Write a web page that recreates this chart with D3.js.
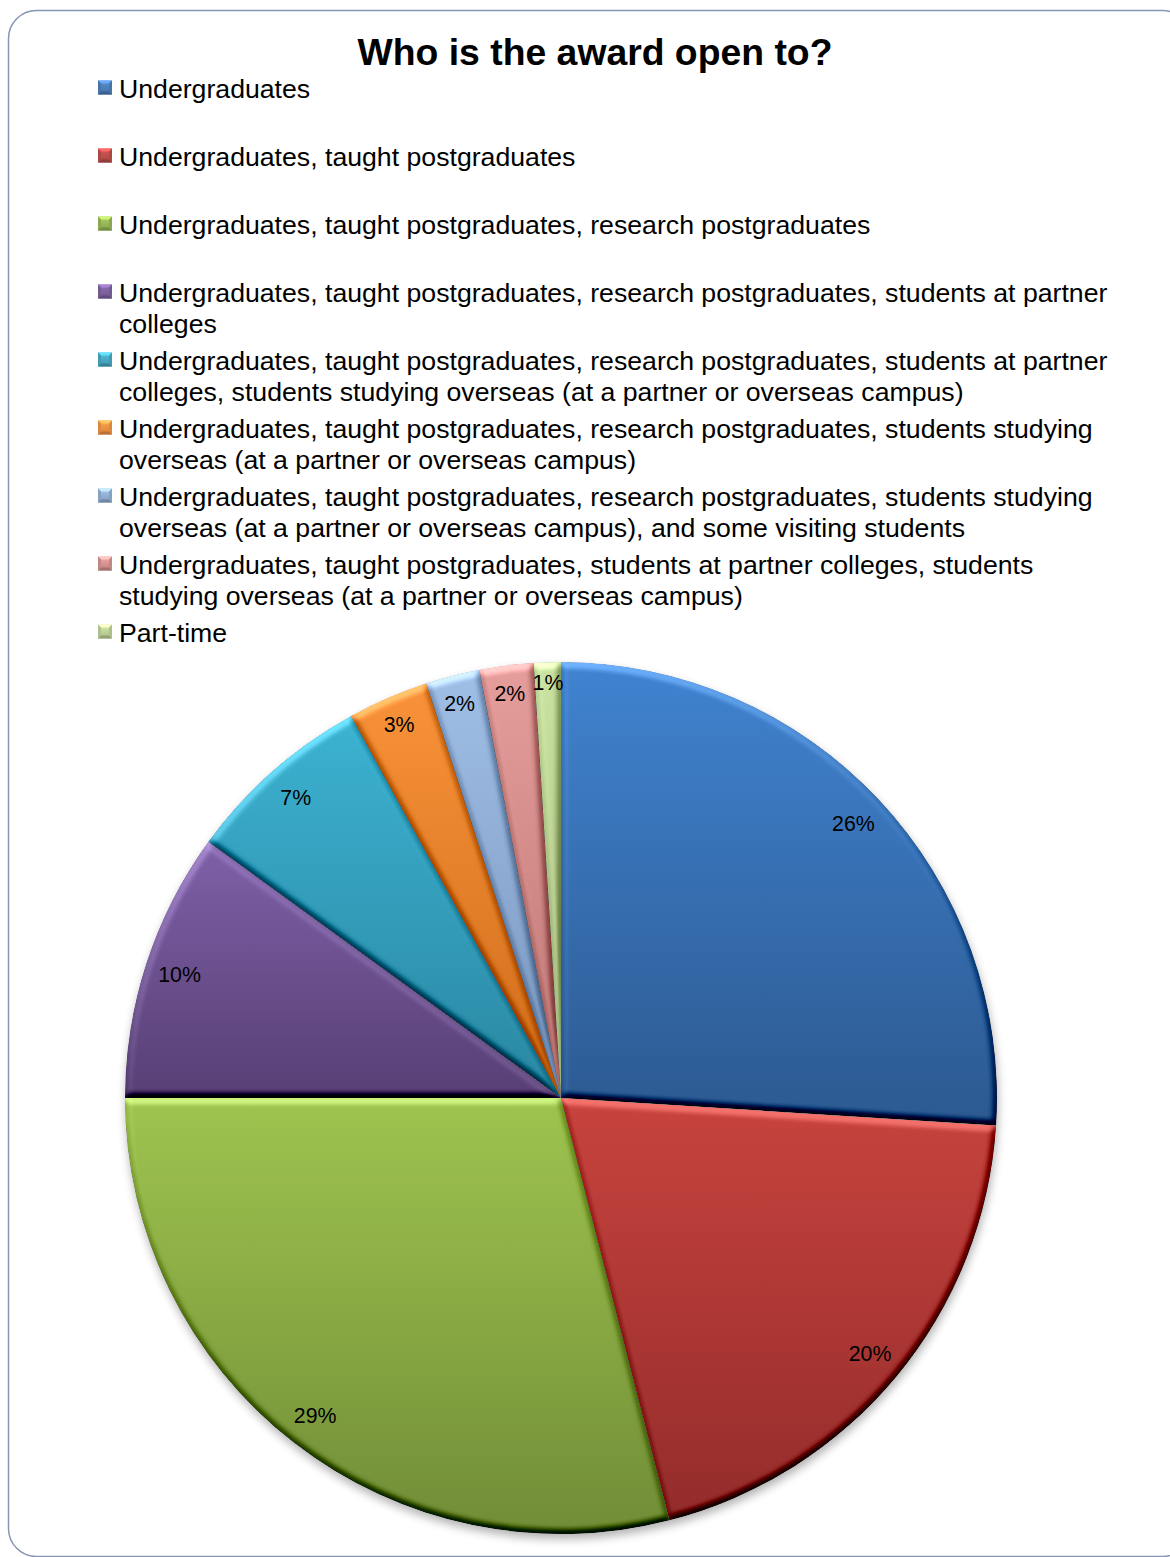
<!DOCTYPE html>
<html>
<head>
<meta charset="utf-8">
<script src="https://cdn.jsdelivr.net/npm/d3@7"></script>
<style>
  html, body { margin: 0; padding: 0; background: #fff; }
  svg { display: block; font-family: "Liberation Sans", Arial, sans-serif; }
</style>
</head>
<body>
<svg id="chart" width="1170" height="1557"></svg>
<script>
// ---- data ----
const title = "Who is the award open to?";
const categories = [
  "Undergraduates",
  "Undergraduates, taught postgraduates",
  "Undergraduates, taught postgraduates, research postgraduates",
  "Undergraduates, taught postgraduates, research postgraduates, students at partner colleges",
  "Undergraduates, taught postgraduates, research postgraduates, students at partner colleges, students studying overseas (at a partner or overseas campus)",
  "Undergraduates, taught postgraduates, research postgraduates, students studying overseas (at a partner or overseas campus)",
  "Undergraduates, taught postgraduates, research postgraduates, students studying overseas (at a partner or overseas campus), and some visiting students",
  "Undergraduates, taught postgraduates, students at partner colleges, students studying overseas (at a partner or overseas campus)",
  "Part-time"
];
const values = [26, 20, 29, 10, 7, 3, 2, 2, 1];
const valueLabels = ["26%", "20%", "29%", "10%", "7%", "3%", "2%", "2%", "1%"];

// ---- style ----
const baseColors = ["#4F81BD", "#C0504D", "#9BBB59", "#8064A2", "#4BACC6", "#F79646", "#95B3D7", "#D99694", "#C3D69B"];
const topColors  = ["#4083d0", "#c8433e", "#9fc44f", "#7e60a8", "#3cb2d1", "#f8923a", "#a0bfe6", "#e59e9c", "#cbe3a2"];
const botColors  = ["#2c5990", "#932c2b", "#718d37", "#583f74", "#2a87a2", "#d06c1a", "#7895be", "#bd7674", "#a2b87d"];

const svg = d3.select("#chart");
const defs = svg.append("defs");

// bevel filter (region in pie-group coordinates)
const f = defs.append("filter").attr("id", "bevel")
  .attr("filterUnits", "userSpaceOnUse").attr("x", -480).attr("y", -480)
  .attr("width", 960).attr("height", 960)
  .attr("color-interpolation-filters", "sRGB");
f.append("feGaussianBlur").attr("in", "SourceAlpha").attr("stdDeviation", 3.5).attr("result", "b");
const dl = f.append("feDiffuseLighting").attr("in", "b").attr("surfaceScale", 5)
  .attr("diffuseConstant", 1).attr("lighting-color", "#ffffff").attr("result", "d");
dl.append("feDistantLight").attr("azimuth", 250).attr("elevation", 45);
f.append("feComposite").attr("in", "SourceGraphic").attr("in2", "d").attr("operator", "arithmetic")
  .attr("k1", 0).attr("k2", 1).attr("k3", 0.7).attr("k4", -0.495).attr("result", "c");
f.append("feComposite").attr("in", "c").attr("in2", "SourceAlpha").attr("operator", "in");

// shadow filter
const sf = defs.append("filter").attr("id", "shadow")
  .attr("x", "-10%").attr("y", "-10%").attr("width", "120%").attr("height", "120%");
sf.append("feGaussianBlur").attr("stdDeviation", 5);

// gradients
values.forEach((v, i) => {
  const g = defs.append("linearGradient").attr("id", "grad" + i)
    .attr("x1", 0).attr("y1", 0).attr("x2", 0).attr("y2", 1);
  g.append("stop").attr("offset", "0%").attr("stop-color", topColors[i]);
  g.append("stop").attr("offset", "100%").attr("stop-color", botColors[i]);
  const m = defs.append("linearGradient").attr("id", "mgrad" + i)
    .attr("x1", 0).attr("y1", 0).attr("x2", 0).attr("y2", 1);
  m.append("stop").attr("offset", "0%").attr("stop-color", d3.color(baseColors[i]).brighter(0.3));
  m.append("stop").attr("offset", "100%").attr("stop-color", d3.color(baseColors[i]).darker(0.4));
});

// chart border
svg.append("rect")
  .attr("x", 8.5).attr("y", 10.5).attr("width", 1182).attr("height", 1546)
  .attr("rx", 28).attr("ry", 28)
  .attr("fill", "#fff").attr("stroke", "#8796b3").attr("stroke-width", 1.5);

// title
svg.append("text")
  .attr("x", 595).attr("y", 65)
  .attr("text-anchor", "middle")
  .attr("font-size", 37.33).attr("font-weight", "bold").attr("fill", "#000")
  .text(title);

// legend
const legendFont = 26.67;
const legendX = 119, legendY0 = 97.5, legendStep = 68, lineH = 31, wrapW = 1000;
const legend = svg.append("g");
const measurer = svg.append("text").attr("font-size", legendFont).attr("visibility", "hidden");
function wrap(str) {
  const words = str.split(" ");
  const lines = [];
  let cur = "";
  words.forEach(w => {
    const test = cur ? cur + " " + w : w;
    measurer.text(test);
    if (measurer.node().getComputedTextLength() > wrapW && cur) {
      lines.push(cur);
      cur = w;
    } else cur = test;
  });
  if (cur) lines.push(cur);
  return lines;
}
categories.forEach((c, i) => {
  const y = legendY0 + i * legendStep;
  const g = legend.append("g");
  // bevelled marker
  const mx = 98, my = y - 17, ms = 14, b = 3;
  g.append("rect").attr("x", mx).attr("y", my).attr("width", ms).attr("height", ms)
    .attr("fill", "url(#mgrad" + i + ")");
  const col = d3.color(baseColors[i]);
  const pts = (arr) => arr.map(p => p.join(",")).join(" ");
  g.append("polygon").attr("points", pts([[mx, my], [mx + ms, my], [mx + ms - b, my + b], [mx + b, my + b]]))
    .attr("fill", col.brighter(0.8));
  g.append("polygon").attr("points", pts([[mx, my + ms], [mx + ms, my + ms], [mx + ms - b, my + ms - b], [mx + b, my + ms - b]]))
    .attr("fill", col.darker(0.8));
  g.append("polygon").attr("points", pts([[mx, my], [mx + b, my + b], [mx + b, my + ms - b], [mx, my + ms]]))
    .attr("fill", col.darker(0.3));
  g.append("polygon").attr("points", pts([[mx + ms, my], [mx + ms - b, my + b], [mx + ms - b, my + ms - b], [mx + ms, my + ms]]))
    .attr("fill", col.darker(0.3));
  const t = g.append("text").attr("x", legendX).attr("y", y)
    .attr("font-size", legendFont).attr("fill", "#000");
  wrap(c).forEach((ln, k) => {
    t.append("tspan").attr("x", legendX).attr("y", y + k * lineH).text(ln);
  });
});
measurer.remove();

// pie
const cx = 561, cy = 1098, R = 436;
const pie = d3.pie().sort(null).value(d => d);
const arcs = pie(values);
const arc = d3.arc().innerRadius(0).outerRadius(R);
// labels of narrow slices sit a little further out (best-fit placement)
const labelRadius = d => {
  const share = (d.endAngle - d.startAngle) / (2 * Math.PI);
  return R * (share <= 0.011 ? 0.955 : share <= 0.035 ? 0.935 : 0.92);
};
const labelPos = d => d3.arc().innerRadius(labelRadius(d)).outerRadius(labelRadius(d)).centroid(d);

const pg = svg.append("g").attr("transform", `translate(${cx},${cy})`);
pg.append("circle").attr("cx", 1).attr("cy", 5).attr("r", R)
  .attr("fill", "#000").attr("opacity", 0.3).attr("filter", "url(#shadow)");

pg.selectAll("path.slice").data(arcs).enter().append("path")
  .attr("class", "slice")
  .attr("d", arc)
  .attr("fill", (d, i) => "url(#grad" + i + ")")
  .attr("filter", "url(#bevel)");

pg.selectAll("text.lbl").data(arcs).enter().append("text")
  .attr("class", "lbl")
  .attr("transform", d => `translate(${labelPos(d)})`)
  .attr("text-anchor", "middle")
  .attr("dy", "0.36em")
  .attr("font-size", 21.33)
  .attr("fill", "#000")
  .text((d, i) => valueLabels[i]);
</script>
</body>
</html>
